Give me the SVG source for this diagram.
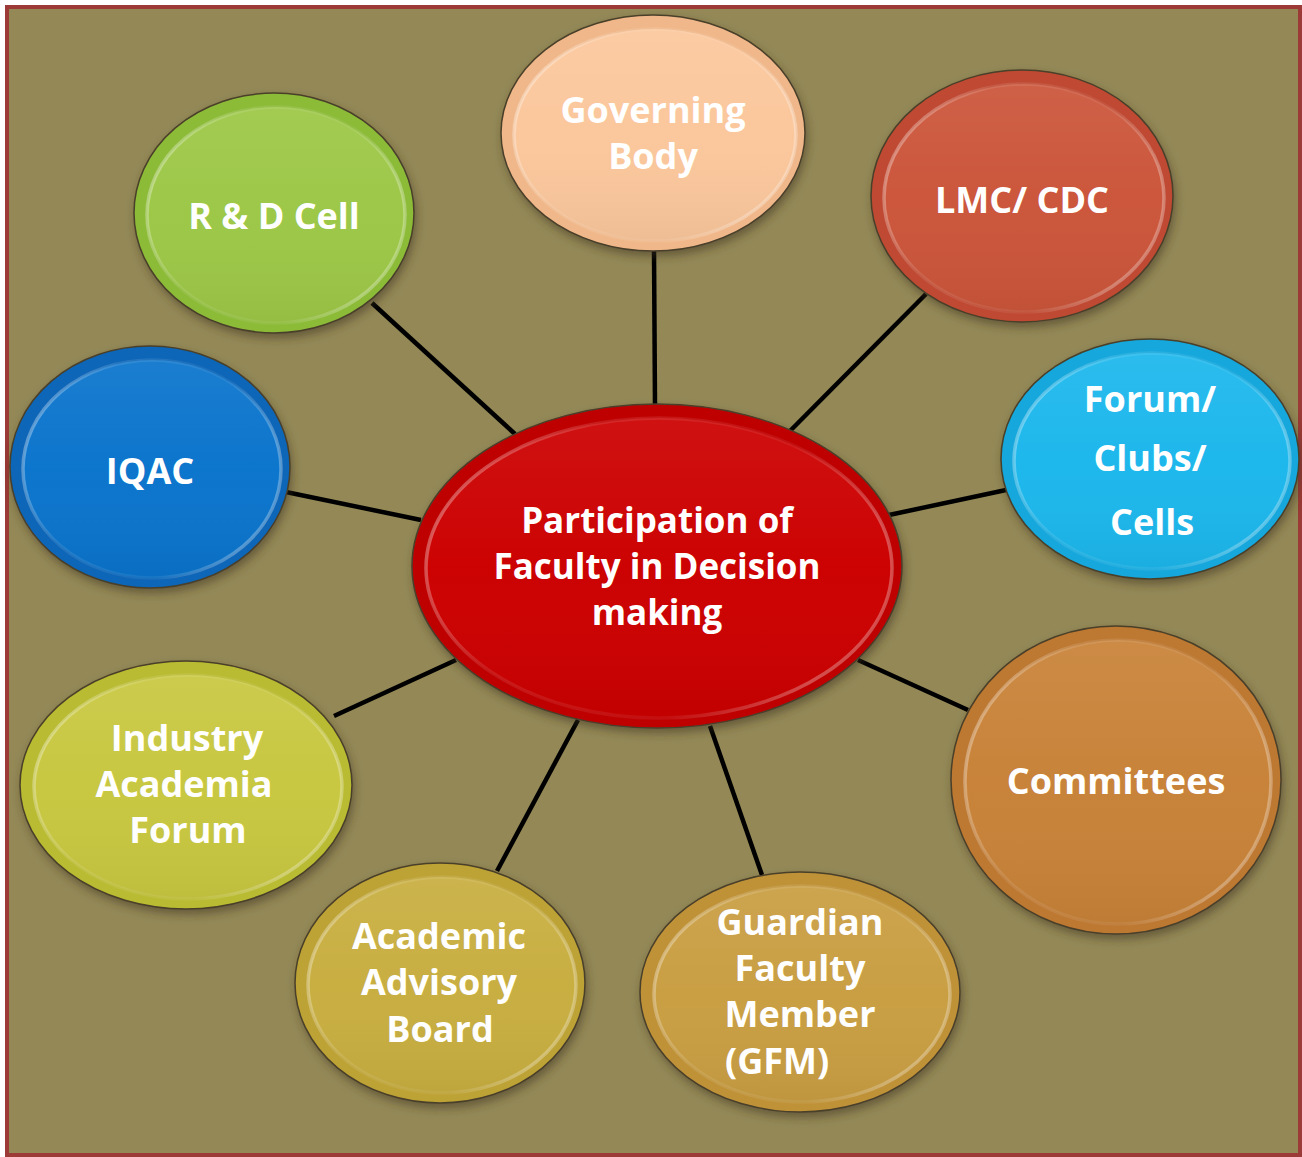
<svg xmlns="http://www.w3.org/2000/svg" width="1302" height="1157" viewBox="0 0 1302 1157">
<defs>
<style>
.outer{stroke:#4a3f2a;stroke-width:1.5;filter:url(#shadow)}
.inner{stroke:url(#rim);stroke-width:3.5}
.sheen{fill:url(#sheen)}
.lbl{font-family:"Open Sans","Noto Sans","DejaVu Sans",sans-serif;font-weight:700;font-size:36px;fill:#ffffff;text-anchor:middle}
.ctr{font-size:35px}
.conn line{stroke:#000000;stroke-width:4.5;stroke-linecap:butt}
</style>
<linearGradient id="rim" x1="0" y1="0" x2="1" y2="0.3">
<stop offset="0" stop-color="#ffffff" stop-opacity="0.45"/>
<stop offset="0.35" stop-color="#ffffff" stop-opacity="0.1"/>
<stop offset="0.75" stop-color="#ffffff" stop-opacity="0.06"/>
<stop offset="1" stop-color="#ffffff" stop-opacity="0.3"/>
</linearGradient>
<linearGradient id="sheen" x1="0" y1="0" x2="0" y2="1">
<stop offset="0" stop-color="#ffffff" stop-opacity="0.07"/>
<stop offset="0.5" stop-color="#ffffff" stop-opacity="0.01"/>
<stop offset="1" stop-color="#000000" stop-opacity="0.05"/>
</linearGradient>
<filter id="shadow" x="-10%" y="-10%" width="125%" height="130%">
<feDropShadow dx="2" dy="5" stdDeviation="4" flood-color="#3a3220" flood-opacity="0.5"/>
</filter>
</defs>
<rect x="0" y="0" width="1302" height="1157" fill="#ffffff"/>
<rect x="7" y="7" width="1293" height="1148" fill="#938856" stroke="#9b3a36" stroke-width="4"/>
<g id="connectors" class="conn">
<line x1="654" y1="250" x2="655" y2="406"/>
<line x1="926" y1="294" x2="790" y2="431"/>
<line x1="372" y1="303" x2="515" y2="434"/>
<line x1="286" y1="492" x2="421" y2="520"/>
<line x1="1006" y1="490" x2="889" y2="515"/>
<line x1="968" y1="710" x2="858" y2="660"/>
<line x1="334" y1="716" x2="456" y2="660"/>
<line x1="497" y1="871" x2="578" y2="720"/>
<line x1="762" y1="875" x2="710" y2="726"/>
</g>
<g id="node-governing-body">
<ellipse class="outer" cx="653" cy="133" rx="152" ry="118" fill="#f0b88a"/>
<ellipse class="inner" cx="655" cy="135" rx="141" ry="106" fill="#fbc79c"/>
<ellipse class="sheen" cx="655" cy="135" rx="141" ry="106"/>
<text class="lbl" x="653" y="123">Governing</text>
<text class="lbl" x="653" y="169">Body</text>
</g>
<g id="node-lmc-cdc">
<ellipse class="outer" cx="1022" cy="196" rx="151" ry="126" fill="#bf4a30"/>
<ellipse class="inner" cx="1024" cy="198" rx="140" ry="114" fill="#cb553a"/>
<ellipse class="sheen" cx="1024" cy="198" rx="140" ry="114"/>
<text class="lbl" x="1022" y="213">LMC/ CDC</text>
</g>
<g id="node-rd-cell">
<ellipse class="outer" cx="274" cy="213" rx="140" ry="120" fill="#8cbb38"/>
<ellipse class="inner" cx="276" cy="215" rx="129" ry="108" fill="#9cc746"/>
<ellipse class="sheen" cx="276" cy="215" rx="129" ry="108"/>
<text class="lbl" x="274" y="229">R &amp; D Cell</text>
</g>
<g id="node-iqac">
<ellipse class="outer" cx="150" cy="467" rx="140" ry="121" fill="#0a66b8"/>
<ellipse class="inner" cx="152" cy="469" rx="129" ry="109" fill="#0a74cc"/>
<ellipse class="sheen" cx="152" cy="469" rx="129" ry="109"/>
<text class="lbl" x="150" y="484">IQAC</text>
</g>
<g id="node-forum-clubs-cells">
<ellipse class="outer" cx="1150" cy="459" rx="149" ry="120" fill="#12a8dc"/>
<ellipse class="inner" cx="1152" cy="461" rx="138" ry="108" fill="#1cb7ec"/>
<ellipse class="sheen" cx="1152" cy="461" rx="138" ry="108"/>
<text class="lbl" x="1150" y="412">Forum/</text>
<text class="lbl" x="1150" y="471">Clubs/</text>
<text class="lbl" x="1152" y="535">Cells</text>
</g>
<g id="node-center">
<ellipse class="outer" cx="657" cy="566" rx="245" ry="162" fill="#bf0000"/>
<ellipse class="inner" cx="659" cy="568" rx="233" ry="150" fill="#cc0000"/>
<ellipse class="sheen" cx="659" cy="568" rx="233" ry="150"/>
<text class="lbl ctr" x="657" y="533">Participation of</text>
<text class="lbl ctr" x="657" y="579">Faculty in Decision</text>
<text class="lbl ctr" x="657" y="625">making</text>
</g>
<g id="node-industry-academia-forum">
<ellipse class="outer" cx="186" cy="785" rx="166" ry="124" fill="#b9bb30"/>
<ellipse class="inner" cx="188" cy="787" rx="154" ry="112" fill="#c8c740"/>
<ellipse class="sheen" cx="188" cy="787" rx="154" ry="112"/>
<text class="lbl" x="187" y="751">Industry</text>
<text class="lbl" x="184" y="797">Academia</text>
<text class="lbl" x="188" y="843">Forum</text>
</g>
<g id="node-committees">
<ellipse class="outer" cx="1116" cy="780" rx="165" ry="154" fill="#bd7830"/>
<ellipse class="inner" cx="1118" cy="782" rx="153" ry="142" fill="#c88238"/>
<ellipse class="sheen" cx="1118" cy="782" rx="153" ry="142"/>
<text class="lbl" x="1116" y="794">Committees</text>
</g>
<g id="node-academic-advisory-board">
<ellipse class="outer" cx="440" cy="983" rx="145" ry="120" fill="#bda234"/>
<ellipse class="inner" cx="442" cy="985" rx="134" ry="108" fill="#c8ae40"/>
<ellipse class="sheen" cx="442" cy="985" rx="134" ry="108"/>
<text class="lbl" x="439" y="949">Academic</text>
<text class="lbl" x="439" y="995">Advisory</text>
<text class="lbl" x="440" y="1042">Board</text>
</g>
<g id="node-gfm">
<ellipse class="outer" cx="800" cy="992" rx="160" ry="120" fill="#bf9238"/>
<ellipse class="inner" cx="802" cy="994" rx="148" ry="108" fill="#c99e42"/>
<ellipse class="sheen" cx="802" cy="994" rx="148" ry="108"/>
<text class="lbl" x="800" y="935">Guardian</text>
<text class="lbl" x="800" y="981">Faculty</text>
<text class="lbl" x="800" y="1027">Member</text>
<text class="lbl" x="725" y="1074" style="text-anchor:start">(GFM)</text>
</g>
</svg>
